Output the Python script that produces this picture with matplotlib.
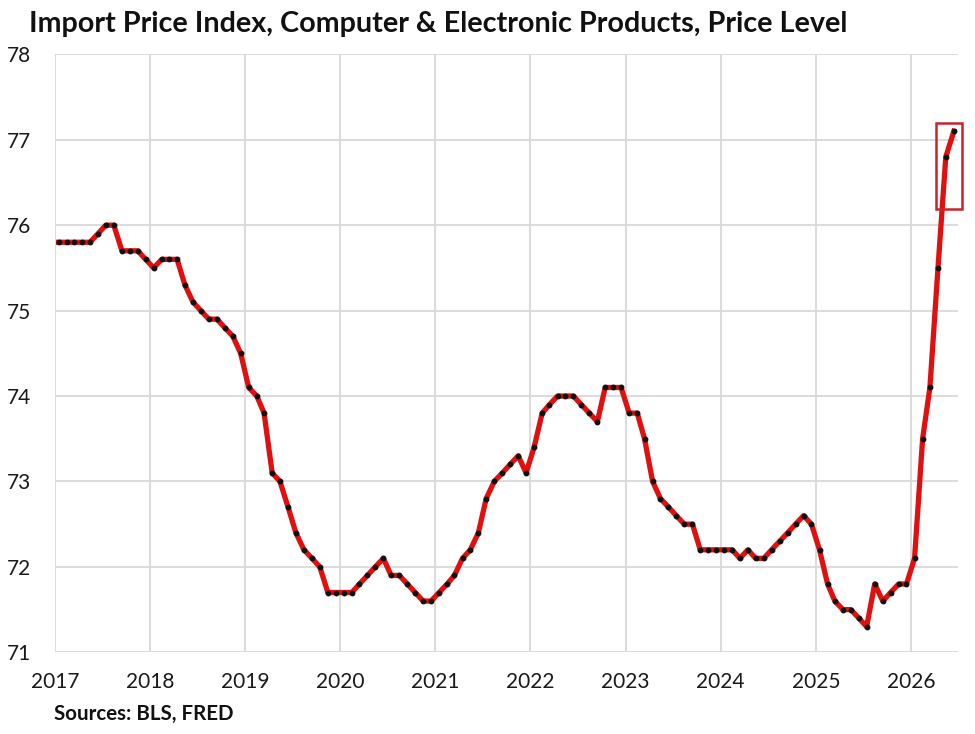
"""Import Price Index, Computer & Electronic Products - monthly price level, 2017 to mid-2026."""
import matplotlib
matplotlib.use("Agg")
import matplotlib.pyplot as plt
import matplotlib.dates as mdates
import pandas as pd
from matplotlib.patches import Rectangle

FONT = ["Lato", "DejaVu Sans"]
plt.rcParams["font.family"] = FONT

# monthly index values, Jan 2017 .. Jun 2026
price_level = [
    75.8, 75.8, 75.8, 75.8, 75.8, 75.9, 76.0, 76.0, 75.7, 75.7, 75.7, 75.6,  # 2017
    75.5, 75.6, 75.6, 75.6, 75.3, 75.1, 75.0, 74.9, 74.9, 74.8, 74.7, 74.5,  # 2018
    74.1, 74.0, 73.8, 73.1, 73.0, 72.7, 72.4, 72.2, 72.1, 72.0, 71.7, 71.7,  # 2019
    71.7, 71.7, 71.8, 71.9, 72.0, 72.1, 71.9, 71.9, 71.8, 71.7, 71.6, 71.6,  # 2020
    71.7, 71.8, 71.9, 72.1, 72.2, 72.4, 72.8, 73.0, 73.1, 73.2, 73.3, 73.1,  # 2021
    73.4, 73.8, 73.9, 74.0, 74.0, 74.0, 73.9, 73.8, 73.7, 74.1, 74.1, 74.1,  # 2022
    73.8, 73.8, 73.5, 73.0, 72.8, 72.7, 72.6, 72.5, 72.5, 72.2, 72.2, 72.2,  # 2023
    72.2, 72.2, 72.1, 72.2, 72.1, 72.1, 72.2, 72.3, 72.4, 72.5, 72.6, 72.5,  # 2024
    72.2, 71.8, 71.6, 71.5, 71.5, 71.4, 71.3, 71.8, 71.6, 71.7, 71.8, 71.8,  # 2025
    72.1, 73.5, 74.1, 75.5, 76.8, 77.1,                                      # 2026
]
months = pd.date_range("2017-01-01", periods=len(price_level), freq="MS")
years = list(range(2017, 2027))
y_ticks = [71, 72, 73, 74, 75, 76, 77, 78]

# highlight box around the latest readings
box_start, box_end = pd.Timestamp("2026-04-06"), pd.Timestamp("2026-07-15")
box_low, box_high = 76.19, 77.20

RED = "#E01010"
GRID = "#D9D9D9"

fig = plt.figure(figsize=(9.75, 7.34), dpi=100)
ax = fig.add_axes([0.0564, 0.1113, 0.9262, 0.8147])

x = months + pd.Timedelta(days=14)  # points sit mid-month
ax.plot(x, price_level, color=RED, lw=3.8, solid_joinstyle="round", zorder=3)
ax.plot(x, price_level, ls="none", marker="o", ms=3.2, color="#111111", zorder=4)

ax.set_xlim(pd.Timestamp("2017-01-01"), pd.Timestamp("2026-07-01"))
ax.set_ylim(71, 78)
ax.set_xticks([pd.Timestamp(f"{y}-01-01") for y in years])
ax.xaxis.set_major_formatter(mdates.DateFormatter("%Y"))
ax.set_yticks(y_ticks)

ax.grid(True, color=GRID, lw=1.3)
ax.set_axisbelow(True)
for s in ax.spines.values():
    s.set_visible(False)
ax.tick_params(length=0, labelsize=15, colors="#1a1a1a")
ax.tick_params(axis="y", pad=17)
ax.tick_params(axis="x", pad=14)

ax.add_patch(Rectangle((mdates.date2num(box_start), box_low),
                       mdates.date2num(box_end) - mdates.date2num(box_start),
                       box_high - box_low, fill=False, ec="#C8242B", lw=1.8,
                       clip_on=False, zorder=5))

fig.text(0.030, 0.957, "Import Price Index, Computer & Electronic Products, Price Level",
         fontsize=20.7, fontweight="bold", color="#111111", ha="left", va="baseline")
fig.text(0.055, 0.019, "Sources: BLS, FRED", fontsize=14.8, fontweight="bold",
         color="#111111", ha="left", va="baseline")

fig.savefig("out.png", dpi=100)
